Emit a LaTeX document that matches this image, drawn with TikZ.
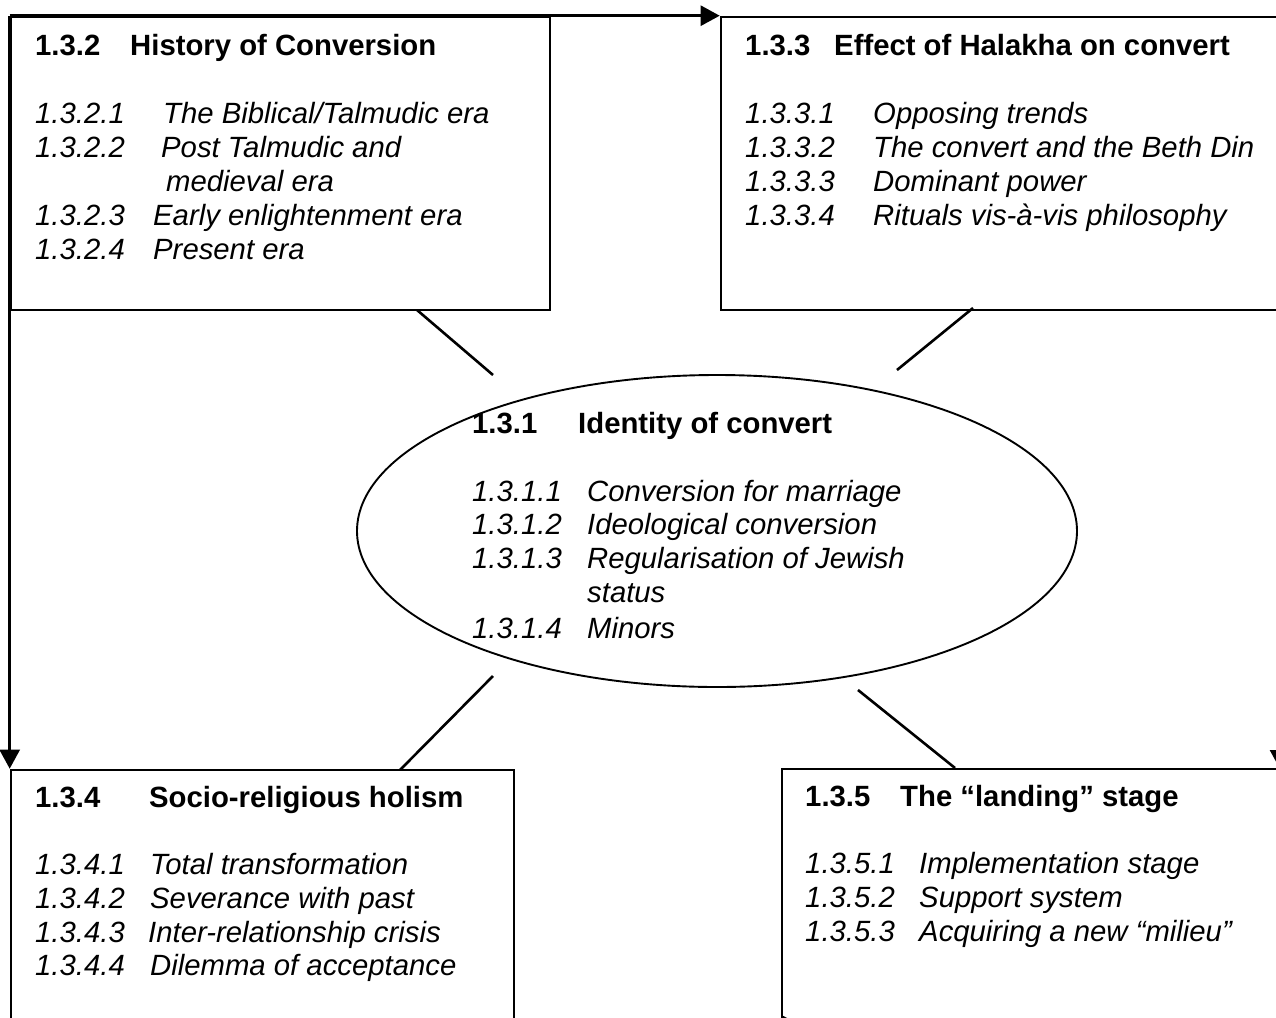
\documentclass[tikz,border=0pt]{standalone}
\usepackage{fontspec}
\setmainfont{Liberation Sans}
\usetikzlibrary{arrows.meta,shapes.geometric}
\begin{document}
\begin{tikzpicture}[x=1pt,y=-1pt]
\tikzset{
 boxnode/.style={draw, line width=2.6pt, rectangle, inner sep=0pt},
 conn/.style={line width=2.6pt},
 arr/.style={line width=2.6pt, -{Triangle[length=19pt,width=20pt]}},
 hd/.style={inner sep=0pt, anchor=base west, font=\fontsize{29.3}{34}\selectfont\bfseries},
 itm/.style={inner sep=0pt, anchor=base west, font=\fontsize{29.3}{34}\selectfont\itshape},
}
\useasboundingbox (0,0) rectangle (1276,1017);
\fill[white] (0,0) rectangle (1276,1017);
\clip (0,0) rectangle (1276,1017);

% boxes
\node[boxnode, minimum width=539pt, minimum height=293pt] (box2) at (280.5,163.5) {};
\node[boxnode, minimum width=579pt, minimum height=293pt] (box3) at (1010.5,163.5) {};
\node[boxnode, minimum width=503pt, minimum height=280pt] (box4) at (262.5,910) {};
\node[boxnode, minimum width=518pt, minimum height=281pt] (box5) at (1041,909.5) {};
\node[draw, ellipse, line width=1.9pt, inner sep=0pt, minimum width=720pt, minimum height=312pt] (ell) at (717,531) {};

% connector end points
\coordinate (c2a) at (417,310); \coordinate (c2b) at (493,375);
\coordinate (c3a) at (973,308); \coordinate (c3b) at (897,370);
\coordinate (c4a) at (400,770); \coordinate (c4b) at (493,676);
\coordinate (c5a) at (955,768); \coordinate (c5b) at (858,690);
\coordinate (r1) at (1280,310); \coordinate (r2) at (1280,769);
\coordinate (b1) at (514,1025); \coordinate (b2) at (800,1025);

\draw[conn] (c2a) -- (c2b);
\draw[conn] (c3a) -- (c3b);
\draw[conn] (c4b) -- (c4a);
\draw[conn] (c5b) -- (c5a);
\draw[arr] (box2.north west) -- (box3.north west);
\draw[arr] (box2.north west) -- (box4.north west);
\draw[arr] (r1) -- (r2);
\draw[arr] (b1) -- (b2);

% box 1.3.2
\node[hd] (h2a) at (35,55) {1.3.2};
\node[hd] (h2b) at (130,55) {History of Conversion};
\node[itm] (n21) at (35,123) {1.3.2.1};
\node[itm] (t21) at (163,123) {The Biblical/Talmudic era};
\node[itm] (n22) at (35,157) {1.3.2.2};
\node[itm] (t22) at (161,157) {Post Talmudic and};
\node[itm] (t22b) at (166,191) {medieval era};
\node[itm] (n23) at (35,225) {1.3.2.3};
\node[itm] (t23) at (153,225) {Early enlightenment era};
\node[itm] (n24) at (35,259) {1.3.2.4};
\node[itm] (t24) at (153,259) {Present era};

% box 1.3.3
\node[hd] (h3a) at (745,55) {1.3.3};
\node[hd] (h3b) at (834,55) {Effect of Halakha on convert};
\node[itm] (n31) at (745,123) {1.3.3.1};
\node[itm] (t31) at (873,123) {Opposing trends};
\node[itm] (n32) at (745,157) {1.3.3.2};
\node[itm] (t32) at (873,157) {The convert and the Beth Din};
\node[itm] (n33) at (745,191) {1.3.3.3};
\node[itm] (t33) at (873,191) {Dominant power};
\node[itm] (n34) at (745,225) {1.3.3.4};
\node[itm] (t34) at (873,225) {Rituals vis-à-vis philosophy};

% ellipse 1.3.1
\node[hd] (h1a) at (472,433) {1.3.1};
\node[hd] (h1b) at (578,433) {Identity of convert};
\node[itm] (n11) at (472,501) {1.3.1.1};
\node[itm] (t11) at (587,501) {Conversion for marriage};
\node[itm] (n12) at (472,534) {1.3.1.2};
\node[itm] (t12) at (587,534) {Ideological conversion};
\node[itm] (n13) at (472,568) {1.3.1.3};
\node[itm] (t13) at (587,568) {Regularisation of Jewish};
\node[itm] (t13b) at (587,602) {status};
\node[itm] (n14) at (472,638) {1.3.1.4};
\node[itm] (t14) at (587,638) {Minors};

% box 1.3.4
\node[hd] (h4a) at (35,807) {1.3.4};
\node[hd] (h4b) at (149,807) {Socio-religious holism};
\node[itm] (n41) at (35,874) {1.3.4.1};
\node[itm] (t41) at (150,874) {Total transformation};
\node[itm] (n42) at (35,908) {1.3.4.2};
\node[itm] (t42) at (150,908) {Severance with past};
\node[itm] (n43) at (35,942) {1.3.4.3};
\node[itm] (t43) at (148,942) {Inter-relationship crisis};
\node[itm] (n44) at (35,975) {1.3.4.4};
\node[itm] (t44) at (150,975) {Dilemma of acceptance};

% box 1.3.5
\node[hd] (h5a) at (805,806) {1.3.5};
\node[hd] (h5b) at (900,806) {The “landing” stage};
\node[itm] (n51) at (805,873) {1.3.5.1};
\node[itm] (t51) at (919,873) {Implementation stage};
\node[itm] (n52) at (805,907) {1.3.5.2};
\node[itm] (t52) at (919,907) {Support system};
\node[itm] (n53) at (805,941) {1.3.5.3};
\node[itm] (t53) at (919,941) {Acquiring a new “milieu”};
\end{tikzpicture}
\end{document}
